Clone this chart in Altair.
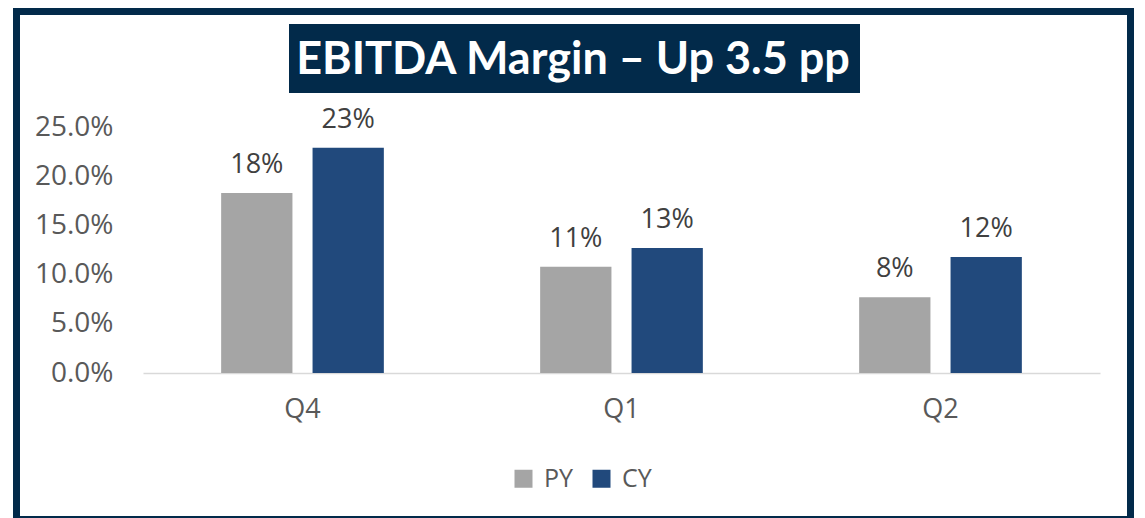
import altair as alt
import pandas as pd

quarters = ["Q4", "Q1", "Q2"]
series = ["PY", "CY"]
py_values = [0.183, 0.108, 0.077]
cy_values = [0.229, 0.127, 0.118]
py_labels = ["18%", "11%", "8%"]
cy_labels = ["23%", "13%", "12%"]
y_ticks = [0.0, 0.05, 0.10, 0.15, 0.20, 0.25]
title_text = "EBITDA Margin \u2013 Up 3.5 pp"
colors = ["#a5a5a5", "#21497c"]
navy = "#022a4a"

rows = []
for q, v, l in zip(quarters, py_values, py_labels):
    rows.append({"quarter": q, "series": "PY", "value": v, "label": l})
for q, v, l in zip(quarters, cy_values, cy_labels):
    rows.append({"quarter": q, "series": "CY", "value": v, "label": l})
df = pd.DataFrame(rows)

FONT = "Open Sans"

x_enc = alt.X("quarter:N", sort=quarters, title=None,
              scale=alt.Scale(paddingInner=0.49, paddingOuter=0.245),
              axis=alt.Axis(labelAngle=0, ticks=False, domainColor="#d9d9d9",
                            domainWidth=1.5, labelFontSize=27, labelColor="#595959",
                            labelFont=FONT, labelPadding=23, grid=False))
xo_enc = alt.XOffset("series:N", sort=series,
                     scale=alt.Scale(paddingInner=0.22, paddingOuter=0))
y_enc = alt.Y("value:Q", title=None,
              scale=alt.Scale(domain=[0, 0.25], nice=False),
              axis=alt.Axis(values=y_ticks, format=".1%", domain=False, ticks=False,
                            grid=False, labelFontSize=28, labelColor="#595959",
                            labelFont=FONT, labelPadding=30))

bars = alt.Chart(df).mark_bar().encode(
    x=x_enc, xOffset=xo_enc, y=y_enc,
    color=alt.Color("series:N", sort=series,
                    scale=alt.Scale(domain=series, range=colors),
                    legend=alt.Legend(title=None, orient="none", legendX=368, legendY=339,
                                      direction="horizontal", symbolType="square",
                                      symbolSize=324, symbolStrokeWidth=0,
                                      labelFontSize=25, labelColor="#595959",
                                      labelFont=FONT, labelOffset=8, columnPadding=15,
                                      padding=0)),
)

labels = alt.Chart(df).mark_text(dy=-20, baseline="alphabetic", fontSize=27,
                                 font=FONT, color="#404040").encode(
    x=alt.X("quarter:N", sort=quarters), xOffset=alt.XOffset("series:N", sort=series),
    y="value:Q", text="label:N",
)

one = pd.DataFrame({"t": [title_text]})

border = alt.Chart(one).mark_rect(fill="transparent", stroke=navy, strokeWidth=7).encode(
    x=alt.value(-126.5), x2=alt.value(987.5), y=alt.value(-115.5), y2=alt.value(392.5))

title_box = alt.Chart(one).mark_rect(fill=navy).encode(
    x=alt.value(146), x2=alt.value(717), y=alt.value(-103), y2=alt.value(-34))

title = alt.Chart(one).mark_text(font="Lato", fontWeight="bold", fontSize=45,
                                 color="white", baseline="middle", align="center").encode(
    x=alt.value(430), y=alt.value(-67), text="t:N")

chart = alt.layer(border, title_box, title, bars, labels).properties(
    width=957, height=246,
    autosize=alt.AutoSizeParams(type="none"),
    padding={"left": 135, "top": 119, "right": 37, "bottom": 145},
    background="white",
).configure_view(stroke=None)

chart.save("out.html", embed_options={"renderer": "svg", "actions": False})
